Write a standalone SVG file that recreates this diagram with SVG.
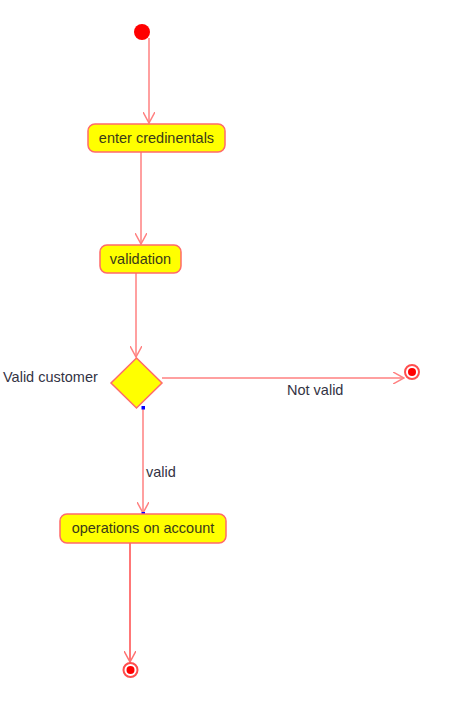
<svg xmlns="http://www.w3.org/2000/svg" width="457" height="718" viewBox="0 0 457 718">
<defs>
<style>
.act{fill:#ffff00;stroke:#ff6a6a;stroke-width:1.5}
.lbl{font-family:"Liberation Sans",Arial,sans-serif;font-size:14.5px;fill:#3a3a1a}
.txt{font-family:"Liberation Sans",Arial,sans-serif;font-size:14.5px;fill:#333344}
.edge{stroke:#ff8080;stroke-width:1.5;fill:none}
.edge2{stroke:#ff4a4a;stroke-width:1.5;fill:none}
</style>
<marker id="arr" viewBox="0 0 12 12" refX="11" refY="6" markerWidth="12" markerHeight="12" markerUnits="userSpaceOnUse" orient="auto">
<path d="M0,0 L11,6 L0,12" fill="none" stroke="#ff8080" stroke-width="1.5"/>
</marker>
<marker id="arr2" viewBox="0 0 12 12" refX="11" refY="6" markerWidth="12" markerHeight="12" markerUnits="userSpaceOnUse" orient="auto">
<path d="M0,0 L11,6 L0,12" fill="none" stroke="#ff7070" stroke-width="1.5"/>
</marker>
</defs>
<rect width="457" height="718" fill="#ffffff"/>
<g id="connectors">
<line class="edge" x1="149" y1="38" x2="149" y2="123" marker-end="url(#arr)"/>
<line class="edge" x1="141" y1="152" x2="141" y2="244" marker-end="url(#arr)"/>
<line class="edge" x1="136" y1="273" x2="136" y2="357" marker-end="url(#arr)"/>
<line class="edge" x1="162" y1="378" x2="404" y2="378" marker-end="url(#arr)"/>
<line class="edge" x1="143" y1="408" x2="143" y2="513" marker-end="url(#arr)"/>
<line class="edge2" x1="130" y1="543" x2="130" y2="662" marker-end="url(#arr2)"/>
<rect x="141.5" y="406" width="3.5" height="3.5" fill="#0000ff"/>
<rect x="141.5" y="512" width="3.5" height="3.5" fill="#0000ff"/>
<text class="txt" x="287" y="395">Not valid</text>
<text class="txt" x="146" y="477">valid</text>
</g>
<g id="start">
<circle cx="142" cy="32" r="8" fill="#ff0000"/>
</g>
<g id="enter-credentials">
<rect class="act" x="88" y="124" width="137" height="28" rx="7"/>
<text class="lbl" x="156.5" y="143" text-anchor="middle">enter credinentals</text>
</g>
<g id="validation">
<rect class="act" x="100" y="245" width="81" height="28" rx="7"/>
<text class="lbl" x="140.5" y="264" text-anchor="middle">validation</text>
</g>
<g id="decision">
<polygon points="136.5,358 162,383 136.5,408 111,383" fill="#ffff00" stroke="#ff6a6a" stroke-width="1.5"/>
<text class="txt" x="3" y="382">Valid customer</text>
</g>
<g id="final-notvalid">
<circle cx="412" cy="372" r="7" fill="none" stroke="#ff4d4d" stroke-width="2"/>
<circle cx="412" cy="372" r="4" fill="#ff0000"/>
</g>
<g id="operations">
<rect class="act" x="60" y="514" width="166" height="29" rx="7"/>
<text class="lbl" x="143" y="533" text-anchor="middle">operations on account</text>
</g>
<g id="final">
<circle cx="130.5" cy="670" r="7" fill="none" stroke="#ff4d4d" stroke-width="2"/>
<circle cx="130.5" cy="670" r="4" fill="#ff0000"/>
</g>
</svg>
